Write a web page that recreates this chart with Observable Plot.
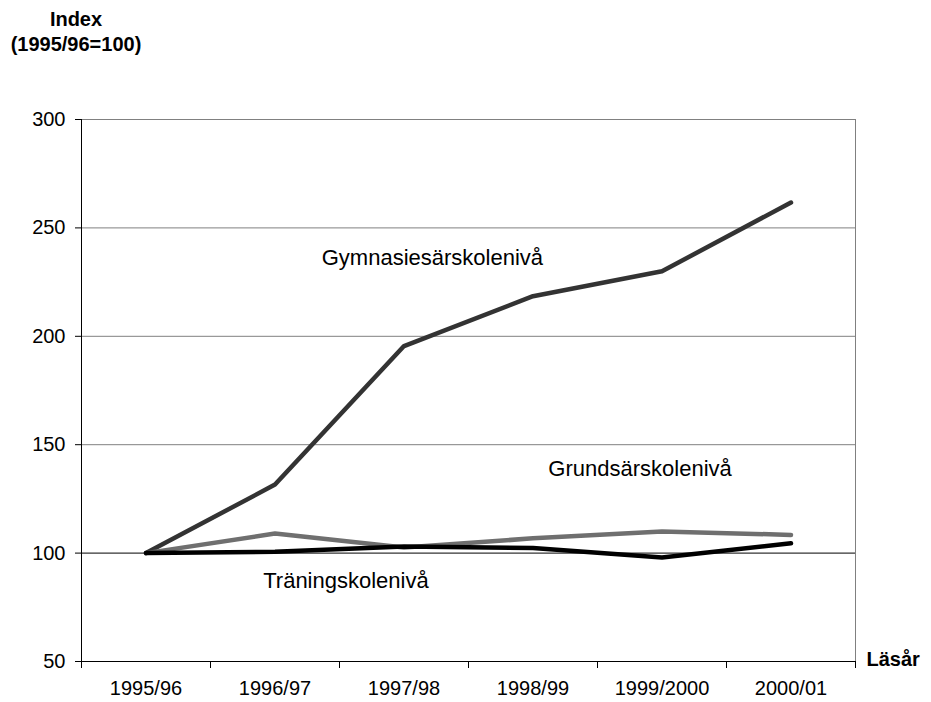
<!DOCTYPE html>
<html>
<head>
<meta charset="utf-8">
<script src="https://cdn.jsdelivr.net/npm/d3@7"></script>
<script src="https://cdn.jsdelivr.net/npm/@observablehq/plot@0.6"></script>
<style>
  html, body { margin: 0; padding: 0; background: #fff; }
  #wrap { position: relative; width: 931px; height: 702px; }
  #title { position: absolute; left: 0; top: 7px; width: 152px; text-align: center; z-index: 2;
           font-family: "Liberation Sans", Arial, sans-serif; font-weight: bold; font-size: 20px; line-height: 25px; color: #000; }
</style>
</head>
<body>
<div id="wrap">
  <div id="title">Index<br>(1995/96=100)</div>
</div>
<script>
const years = ["1995/96", "1996/97", "1997/98", "1998/99", "1999/2000", "2000/01"];
const gymnasie = [100, 131.6, 195.5, 218.5, 230, 261.7];
const grund = [100, 109, 102.6, 106.8, 110, 108.4];
const traning = [100, 100.6, 103, 102.3, 98, 104.5];
const seriesNames = ["Gymnasiesärskolenivå", "Grundsärskolenivå", "Träningskolenivå"];
const seriesColors = ["#333333", "#6f6f6f", "#000000"];
const labelX = [2.22, 3.83, 1.55];
const labelY = [236, 139, 87];
const yTicks = [50, 100, 150, 200, 250, 300];
const gridValues = [150, 200, 250, 300];
const xAxisLabel = "Läsår";

const seriesValues = [gymnasie, grund, traning];
const rows = seriesValues.flatMap((vals, s) => vals.map((v, i) => ({series: seriesNames[s], i, v})));
const labelRows = seriesNames.map((name, s) => ({name, x: labelX[s], y: labelY[s]}));
const boundaries = d3.range(years.length + 1).map(i => i - 0.5);

const chart = Plot.plot({
  width: 931,
  height: 702,
  marginTop: 119,
  marginBottom: 41,
  marginLeft: 81,
  marginRight: 76,
  x: {domain: [-0.5, years.length - 0.5]},
  y: {domain: [50, 300]},
  color: {domain: seriesNames, range: seriesColors},
  style: {fontFamily: "Liberation Sans, Arial, sans-serif", fontSize: "20px", color: "#000"},
  marks: [
    Plot.gridY(gridValues, {stroke: "#808080", strokeOpacity: 1}),
    Plot.ruleY([100], {stroke: "#000"}),
    Plot.ruleX([years.length - 0.5], {stroke: "#808080"}),
    Plot.axisY({ticks: yTicks, tickSize: 6, tickPadding: 10, label: null, fontSize: 20}),
    Plot.ruleX([-0.5], {stroke: "#000"}),
    Plot.ruleY([50], {stroke: "#000"}),
    Plot.axisX({ticks: boundaries, tickSize: 7, tickFormat: () => "", label: null}),
    Plot.axisX({ticks: d3.range(years.length), tickSize: 0, tickPadding: 19, tickFormat: i => years[i], label: null, fontSize: 20}),
    Plot.line(rows, {x: "i", y: "v", z: "series", stroke: "series", strokeWidth: 4.5, strokeLinecap: "round", strokeLinejoin: "round"}),
    Plot.text(labelRows, {x: "x", y: "y", text: "name", fontSize: 22, fill: "#000"}),
    Plot.text([xAxisLabel], {x: years.length - 0.5, y: 50, dx: 11, dy: -2, textAnchor: "start", fontWeight: "bold", fontSize: 20, fill: "#000"})
  ]
});
chart.style.position = "absolute";
chart.style.left = "0";
chart.style.top = "0";
chart.style.zIndex = "1";
document.getElementById("wrap").appendChild(chart);
</script>
</body>
</html>
